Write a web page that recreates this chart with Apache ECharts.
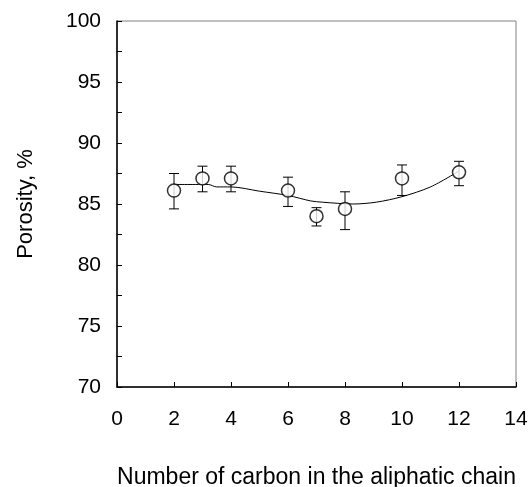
<!DOCTYPE html>
<html>
<head>
<meta charset="utf-8">
<script src="https://cdn.jsdelivr.net/npm/echarts@6/dist/echarts.min.js"></script>
<style>
  html, body { margin: 0; padding: 0; background: #fff; }
  #chart { width: 530px; height: 487px; }
</style>
</head>
<body>
<div id="chart"></div>
<script>
// measured points: carbon number, porosity, error bar low / high
const carbonNum = [2, 3, 4, 6, 7, 8, 10, 12]
const porosity = [86.1, 87.1, 87.1, 86.1, 84.0, 84.6, 87.1, 87.6]
const errLow = [84.6, 86.0, 86.0, 84.8, 83.2, 82.9, 85.7, 86.5]
const errHigh = [87.5, 88.1, 88.1, 87.2, 84.7, 86.0, 88.2, 88.5]

// fitted trend curve
const fitX = [2, 3.2, 3.5, 4, 5, 6, 6.8, 7.2, 8.3, 9.1, 10, 11, 12]
const fitY = [86.6, 86.6, 86.4, 86.4, 86.05, 85.7, 85.25, 85.15, 85.0, 85.15, 85.6, 86.4, 87.7]

const xTicks = [0, 2, 4, 6, 8, 10, 12, 14]
const yTicks = [70, 75, 80, 85, 90, 95, 100]

const FONT = '"Liberation Sans", Arial, sans-serif'

let pointData = []
for (let i = 0; i < carbonNum.length; i++) {
    pointData.push([carbonNum[i], porosity[i]])
}
let errData = []
for (let i = 0; i < carbonNum.length; i++) {
    errData.push([carbonNum[i], errLow[i], errHigh[i]])
}
let fitData = []
for (let i = 0; i < fitX.length; i++) {
    fitData.push([fitX[i], fitY[i]])
}

function renderErrorBar(params, api) {
    let lo = api.coord([api.value(0), api.value(1)])
    let hi = api.coord([api.value(0), api.value(2)])
    let cap = 5
    let style = { stroke: '#000', lineWidth: 1 }
    return {
        type: 'group',
        children: [
            { type: 'line', shape: { x1: lo[0], y1: lo[1], x2: hi[0], y2: hi[1] }, style: style },
            { type: 'line', shape: { x1: lo[0] - cap, y1: lo[1], x2: lo[0] + cap, y2: lo[1] }, style: style },
            { type: 'line', shape: { x1: hi[0] - cap, y1: hi[1], x2: hi[0] + cap, y2: hi[1] }, style: style }
        ]
    }
}

let option = {
    animation: false,
    textStyle: { fontFamily: FONT },
    grid: {
        left: 117, right: 14, top: 21, bottom: 100,
        outerBoundsMode: 'none',
        show: true, borderColor: '#808080', borderWidth: 1
    },
    xAxis: {
        type: 'value',
        min: xTicks[0],
        max: xTicks[xTicks.length - 1],
        interval: 2,
        name: 'Number of carbon in the aliphatic chain',
        nameLocation: 'middle',
        nameGap: 79,
        nameTextStyle: { fontSize: 23, color: '#000', fontFamily: FONT },
        axisLine: { onZero: false, lineStyle: { color: '#000', width: 1.5 } },
        axisTick: { inside: true, length: 5, lineStyle: { color: '#000' } },
        axisLabel: { fontSize: 21, color: '#000', margin: 22, fontFamily: FONT },
        splitLine: { show: false }
    },
    yAxis: {
        type: 'value',
        min: yTicks[0],
        max: yTicks[yTicks.length - 1],
        interval: 5,
        name: 'Porosity, %',
        nameLocation: 'middle',
        nameGap: 80,
        nameTextStyle: { fontSize: 22, color: '#000', fontFamily: FONT },
        axisLine: { show: true, lineStyle: { color: '#000', width: 1.5 } },
        axisTick: { inside: true, length: 5, lineStyle: { color: '#000' } },
        minorTick: { show: true, splitNumber: 2, length: 5, lineStyle: { color: '#000' } },
        axisLabel: { fontSize: 21, color: '#000', margin: 16, fontFamily: FONT },
        splitLine: { show: false }
    },
    series: [
        {
            name: 'fit',
            type: 'line',
            data: fitData,
            smooth: 0.3,
            showSymbol: false,
            lineStyle: { color: '#000', width: 1 },
            z: 1
        },
        {
            name: 'error',
            type: 'custom',
            renderItem: renderErrorBar,
            data: errData,
            z: 2
        },
        {
            name: 'porosity',
            type: 'scatter',
            data: pointData,
            symbol: 'circle',
            symbolSize: 13,
            itemStyle: { color: '#fff', borderColor: '#000', borderWidth: 1.5 },
            z: 3
        }
    ]
};

document.addEventListener('DOMContentLoaded', (event) => {
    let chart = echarts.init(document.getElementById('chart'))
    chart.setOption(option)
});
</script>
</body>
</html>
